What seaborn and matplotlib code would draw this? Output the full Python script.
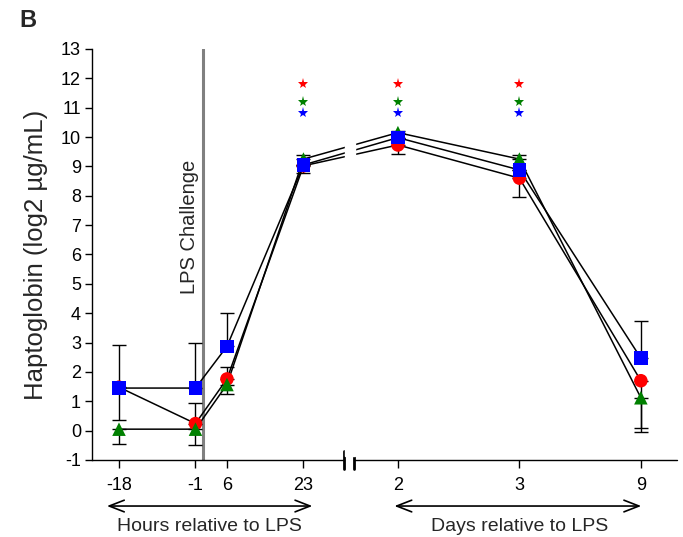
import pandas as pd
import seaborn as sns
import matplotlib.pyplot as plt
import matplotlib.transforms as mtransforms
import numpy as np

# time points (first four in hours, last three in days relative to LPS)
time_labels = ['-18', '-1', '6', '23', '2', '3', '9']
x_pos = [-18, -1, 6, 23, 44, 71, 98]   # layout position of each time point on the axis

red_mean = [1.48, 0.24, 1.76, 9.02, 9.73, 8.60, 1.70]
green_mean = [0.05, 0.05, 1.57, 9.25, 10.15, 9.25, 1.12]
blue_mean = [1.45, 1.45, 2.87, 9.05, 9.98, 8.88, 2.47]

red_up = [1.45, 0.71, 0.42, 0.00, 0.00, 0.00, 0.00]
red_dn = [0.00, 0.00, 0.00, 0.26, 0.31, 0.64, 1.60]
green_up = [0.00, 0.00, 0.00, 0.14, 0.07, 0.13, 0.00]
green_dn = [0.49, 0.55, 0.33, 0.00, 0.00, 0.00, 1.15]
blue_up = [0.00, 1.52, 1.13, 0.00, 0.00, 0.00, 1.26]
blue_dn = [1.09, 0.00, 0.00, 0.00, 0.00, 0.00, 0.00]

# significance stars (index of time point)
star_idx = [3, 4, 5]
star_y = {'red': 11.82, 'green': 11.21, 'blue': 10.81}

colors = {'red': (1, 0, 0), 'green': (0, 0.5, 0), 'blue': (0, 0, 1)}
markers = {'red': 'o', 'green': '^', 'blue': 's'}

means = {'red': red_mean, 'green': green_mean, 'blue': blue_mean}
errs = {'red': (red_dn, red_up), 'green': (green_dn, green_up), 'blue': (blue_dn, blue_up)}

df = pd.concat([pd.DataFrame({'x': x_pos, 'y': means[g], 'group': g}) for g in ['red', 'green', 'blue']],
               ignore_index=True)

sns.set_theme(style='ticks')
plt.rcParams['font.family'] = ['Liberation Sans', 'DejaVu Sans']
plt.rcParams['axes.unicode_minus'] = False

fig = plt.figure(figsize=(6.83, 5.37), dpi=100)
ax = fig.add_axes([0.1347, 0.1434, 0.8563, 0.7654])

for g in ['red', 'green', 'blue']:
    ax.errorbar(x_pos, means[g], yerr=np.array(errs[g]), fmt='none', ecolor='black',
                elinewidth=1.0, capsize=4.7, capthick=1.0, zorder=1.5)

sns.lineplot(data=df, x='x', y='y', units='group', estimator=None, color='black',
             lw=1.1, ax=ax, zorder=2, legend=False)

# axis break gap in the lines
ax.axvspan(32.2, 34.4, ymin=0.01, ymax=0.99, color='white', zorder=2.5)

sns.scatterplot(data=df, x='x', y='y', hue='group', style='group', palette=colors,
                markers=markers, s=95, edgecolor='none', linewidth=0, ax=ax,
                zorder=3, legend=False)

# significance marks
for g in ['red', 'green', 'blue']:
    ax.plot([x_pos[i] for i in star_idx], [star_y[g]] * len(star_idx), linestyle='none',
            marker='*', markersize=8, color=colors[g], markeredgewidth=0, zorder=3)

# LPS challenge line
ax.axvline(0.67, color='#808080', lw=2.2, zorder=1)
ax.text(-0.3, 6.95, 'LPS Challenge', rotation=90, ha='right', va='center', fontsize=14.5)

ax.set_xlim(-24, 106)
ax.set_ylim(-1, 13)
ax.set_yticks(range(-1, 14))
ax.set_xticks(x_pos)
ax.set_xticklabels(time_labels)
ax.tick_params(axis='both', labelsize=13, colors='black', width=1, direction='out')
ax.tick_params(axis='y', length=5, pad=3)
ax.tick_params(axis='x', length=6, pad=6)
ax.set_xlabel('')
ax.set_ylabel('Haptoglobin (log2 µg/mL)', fontsize=18.5, labelpad=9)

sns.despine(ax=ax)
ax.spines['left'].set_linewidth(1.0)
ax.spines['left'].set_color('black')
ax.spines['bottom'].set_visible(False)

# bottom axis with break
trans = mtransforms.blended_transform_factory(ax.transData, ax.transAxes)
ax.plot([-24, 32.1], [0, 0], color='black', lw=1.0, transform=trans, clip_on=False)
ax.plot([34.3, 106], [0, 0], color='black', lw=1.0, transform=trans, clip_on=False)
for bx in [32.1, 34.3]:
    ax.plot([bx, bx], [-0.022, 0.022], color='black', lw=2.0, transform=trans, clip_on=False)

# range arrows
ax.annotate('', xy=(-21.3, -0.112), xytext=(25.6, -0.112), xycoords=trans, textcoords=trans,
            arrowprops=dict(arrowstyle='<->,head_length=0.9,head_width=0.35', color='black', lw=1.2))
ax.annotate('', xy=(42.6, -0.112), xytext=(98.7, -0.112), xycoords=trans, textcoords=trans,
            arrowprops=dict(arrowstyle='<->,head_length=0.9,head_width=0.35', color='black', lw=1.2))
ax.text(2.2, -0.163, 'Hours relative to LPS', transform=trans, ha='center', va='center', fontsize=14)
ax.text(71.0, -0.163, 'Days relative to LPS', transform=trans, ha='center', va='center', fontsize=14)

fig.text(0.041, 0.962, 'B', fontsize=17, fontweight='bold', ha='center', va='center')

plt.savefig('out.png', dpi=100)
